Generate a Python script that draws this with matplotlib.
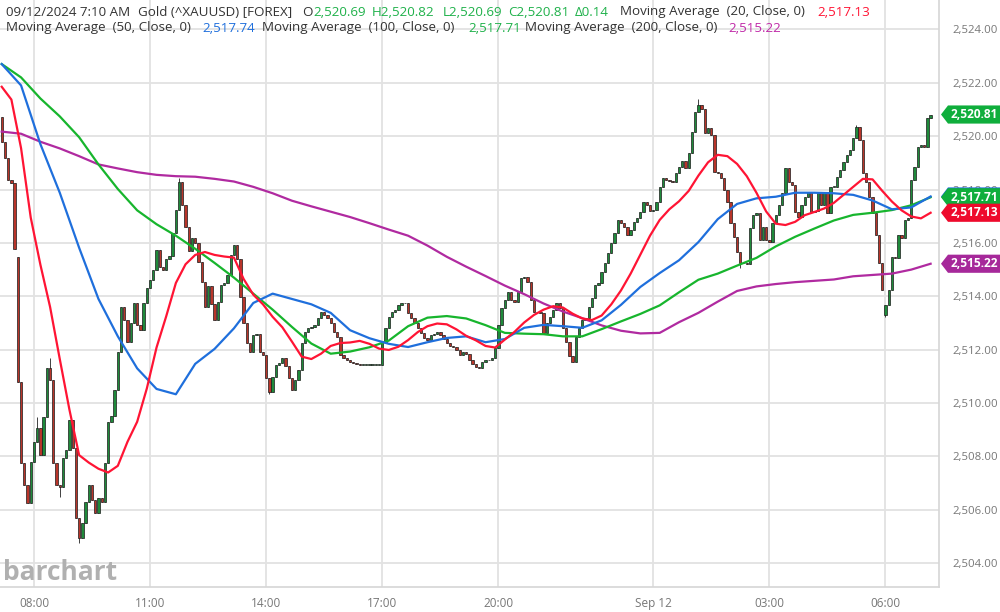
import numpy as np
import matplotlib.pyplot as plt
from matplotlib.patches import Polygon

plt.rcParams['font.family'] = ['Open Sans', 'DejaVu Sans']

# 5-minute bars, 07:10 Sep 11 -> 07:10 Sep 12 (bar index = position on x axis)
closes = [
    2519.79, 2519.17, 2518.36, 2518.25, 2515.76, 2510.80, 2507.74, 2506.93, 2506.25, 2507.80,
    2508.55, 2509.06, 2508.05, 2509.49, 2511.30, 2510.87, 2507.75, 2506.93, 2506.85, 2507.93,
    2508.24, 2509.37, 2508.30, 2505.70, 2504.95, 2505.50, 2506.30, 2506.93, 2506.38, 2505.88,
    2506.44, 2506.30, 2507.76, 2509.30, 2509.50, 2510.49, 2511.93, 2513.61, 2513.11, 2512.30,
    2512.99, 2513.74, 2512.92, 2512.74, 2513.74, 2514.30, 2514.61, 2514.98, 2515.73, 2515.10,
    2515.00, 2515.40, 2515.50, 2516.36, 2517.23, 2518.29, 2517.42, 2516.60, 2515.70, 2516.17,
    2516.00, 2515.30, 2514.55, 2513.61, 2514.40, 2513.70, 2513.11, 2513.80, 2514.42, 2514.50,
    2514.78, 2515.54, 2515.92, 2515.40, 2513.98, 2512.99, 2512.24, 2511.93, 2512.55, 2512.60,
    2511.93, 2511.80, 2510.93, 2510.43, 2510.99, 2511.43, 2511.50, 2511.68, 2511.40, 2510.93,
    2510.49, 2510.87, 2511.24, 2512.24, 2512.67, 2512.80, 2512.85, 2512.93, 2513.18, 2513.42,
    2513.30, 2513.18, 2512.99, 2512.67, 2512.48, 2511.80, 2511.68, 2511.60, 2511.55, 2511.50,
    2511.45, 2511.43, 2511.43, 2511.43, 2511.43, 2511.43, 2511.43, 2511.43, 2512.30, 2512.80,
    2513.24, 2513.42, 2513.50, 2513.67, 2513.74, 2513.76, 2513.36, 2513.18, 2512.99, 2512.80,
    2512.61, 2512.42, 2512.36, 2512.55, 2512.60, 2512.67, 2512.55, 2512.40, 2512.24, 2512.15,
    2512.10, 2511.99, 2511.80, 2511.90, 2511.85, 2511.61, 2511.45, 2511.35, 2511.30, 2511.55,
    2511.60, 2511.62, 2511.68, 2512.05, 2512.93, 2513.55, 2513.86, 2514.17, 2513.86, 2513.80,
    2514.17, 2514.67, 2514.73, 2514.55, 2513.86, 2513.42, 2513.40, 2513.36, 2512.61, 2512.99,
    2513.24, 2513.49, 2513.74, 2513.55, 2512.80, 2512.30, 2511.75, 2511.55, 2512.49, 2512.80,
    2513.11, 2513.18, 2513.61, 2513.93, 2514.42, 2514.50, 2514.92, 2515.24, 2515.61, 2515.98,
    2516.36, 2516.86, 2516.73, 2516.61, 2516.30, 2516.48, 2516.79, 2516.92, 2517.17, 2517.54,
    2517.42, 2517.20, 2517.25, 2517.54, 2518.10, 2518.42, 2518.36, 2518.32, 2518.29, 2518.61,
    2518.85, 2519.08, 2518.79, 2519.36, 2520.16, 2520.91, 2521.16, 2521.00, 2520.10, 2520.30,
    2520.04, 2518.67, 2518.61, 2518.42, 2517.98, 2517.54, 2516.73, 2516.23, 2515.67, 2515.24,
    2515.24, 2515.20, 2516.55, 2517.05, 2517.11, 2516.11, 2516.61, 2516.11, 2516.05, 2516.73,
    2517.05, 2517.42, 2517.86, 2518.79, 2518.30, 2518.17, 2517.17, 2516.98, 2517.42, 2517.73,
    2517.92, 2517.17, 2517.20, 2517.86, 2517.42, 2517.86, 2517.11, 2518.10, 2518.10, 2518.48,
    2518.73, 2519.04, 2519.29, 2519.48, 2519.92, 2520.35, 2519.85, 2518.61, 2518.29, 2517.73,
    2517.11, 2516.30, 2515.24, 2514.24, 2513.67, 2514.24, 2515.48, 2515.42, 2516.30, 2516.17,
    2516.86, 2516.92, 2518.36, 2518.85, 2519.60, 2519.67, 2519.60, 2520.67, 2520.81,
]
first_open = 2520.73
open_gaps = {5: 2515.48, 274: 2513.30}
wick_high = {11: 2509.49, 15: 2511.69, 55: 2518.42, 216: 2521.38, 265: 2520.42}
wick_low = {18: 2506.50, 24: 2504.76, 83: 2510.35, 229: 2515.05, 274: 2513.24}

# MA(20) read every 3 bars, the slower averages every 6 bars
ma20_step = 3
ma20 = [2521.85, 2521.37, 2519.55, 2516.95, 2515.18, 2513.60, 2511.65, 2509.75, 2508.05, 2507.77,
        2507.54, 2507.40, 2507.65, 2508.55, 2509.30, 2510.55, 2512.08, 2513.25, 2514.50, 2515.20,
        2515.55, 2515.66, 2515.55, 2515.49, 2515.45, 2514.65, 2514.06, 2513.70, 2513.23, 2512.84,
        2512.30, 2511.74, 2511.65, 2511.85, 2512.14, 2512.25, 2512.27, 2512.33, 2512.22, 2512.04,
        2511.99, 2512.11, 2512.36, 2512.66, 2512.88, 2512.98, 2512.95, 2512.76, 2512.52, 2512.35,
        2512.14, 2512.08, 2512.38, 2512.67, 2513.02, 2513.30, 2513.50, 2513.63, 2513.58, 2513.35,
        2513.17, 2513.11, 2513.28, 2513.70, 2514.22, 2514.85, 2515.56, 2516.27, 2516.86, 2517.26,
        2517.56, 2517.95, 2518.52, 2519.02, 2519.30, 2519.25, 2518.96, 2518.50, 2517.88, 2517.18,
        2516.72, 2516.67, 2516.79, 2517.04, 2517.16, 2517.29, 2517.50, 2517.80, 2518.10, 2518.40,
        2518.38, 2517.95, 2517.55, 2517.22, 2516.99, 2516.92, 2517.13]
ma_step = 6
ma50 = [2522.70, 2521.90, 2519.70, 2517.88, 2515.82, 2513.90, 2512.50, 2511.30, 2510.53, 2510.33,
        2511.47, 2512.03, 2512.80, 2513.75, 2514.10, 2513.90, 2513.70, 2513.38, 2512.73, 2512.43,
        2512.22, 2512.10, 2512.28, 2512.44, 2512.50, 2512.28, 2512.40, 2512.82, 2512.93, 2512.88,
        2512.82, 2513.10, 2513.68, 2514.35, 2514.87, 2515.35, 2516.03, 2516.89, 2517.46, 2517.67,
        2517.73, 2517.88, 2517.88, 2517.86, 2517.80, 2517.59, 2517.26, 2517.33, 2517.74]
ma100 = [2522.70, 2522.20, 2521.41, 2520.74, 2519.96, 2518.94, 2518.02, 2517.22, 2516.70, 2516.27,
         2515.78, 2515.25, 2514.70, 2514.10, 2513.50, 2512.85, 2512.23, 2511.85, 2511.93, 2512.09,
         2512.34, 2512.88, 2513.20, 2513.26, 2513.17, 2512.92, 2512.63, 2512.60, 2512.58, 2512.50,
         2512.50, 2512.77, 2513.06, 2513.34, 2513.66, 2514.15, 2514.62, 2514.85, 2515.15, 2515.44,
         2515.87, 2516.23, 2516.54, 2516.84, 2517.05, 2517.13, 2517.23, 2517.41, 2517.71]
ma200 = [2520.17, 2520.09, 2519.79, 2519.54, 2519.25, 2518.94, 2518.79, 2518.65, 2518.55, 2518.50,
         2518.48, 2518.40, 2518.30, 2518.10, 2517.86, 2517.58, 2517.37, 2517.17, 2516.97, 2516.74,
         2516.50, 2516.27, 2515.90, 2515.48, 2515.11, 2514.76, 2514.40, 2514.08, 2513.73, 2513.43,
         2513.18, 2512.91, 2512.71, 2512.61, 2512.63, 2513.03, 2513.38, 2513.80, 2514.20, 2514.37,
         2514.46, 2514.53, 2514.58, 2514.63, 2514.75, 2514.80, 2514.85, 2515.00, 2515.22]

tick_bars = [10, 46, 82, 118, 154, 202, 238, 274]
tick_labels = ['08:00', '11:00', '14:00', '17:00', '20:00', 'Sep 12', '03:00', '06:00']

last_ma20, last_ma50, last_ma100, last_ma200 = 2517.13, 2517.74, 2517.71, 2515.22
last_close = 2520.81

C_UP = '#1f8a3b'
C_DN = '#b8352a'
C_MA20 = '#ff1434'
C_MA50 = '#1f6fdc'
C_MA100 = '#17b52d'
C_MA200 = '#b02aa0'
TXT = '#333333'

# build OHLC
closes = np.array(closes)
opens = np.concatenate([[first_open], closes[:-1]])
for k, v in open_gaps.items():
    opens[k] = v
highs = np.maximum(opens, closes)
lows = np.minimum(opens, closes)
for k, v in wick_high.items():
    highs[k] = v
for k, v in wick_low.items():
    lows[k] = v
bars = np.arange(len(closes))

fig = plt.figure(figsize=(10, 6.12), dpi=100)
ax = fig.add_axes([0, 25 / 612, 939 / 1000, 587 / 612])

ax.set_xlim(-0.53, 290.6)
ax.set_ylim(2503.11, 2525.1)

# grid and axes
yt = np.arange(2504, 2525, 2)
ax.set_yticks(yt)
ax.set_yticklabels([f'{v:,.2f}' for v in yt])
ax.set_xticks(tick_bars)
ax.set_xticklabels(tick_labels)
ax.grid(True, color='#e2e2e2', lw=1.3, zorder=0)
ax.set_axisbelow(True)
ax.yaxis.tick_right()
ax.tick_params(axis='y', length=0, pad=10, labelsize=8.2, labelcolor='#777777')
ax.tick_params(axis='x', length=0, pad=7, labelsize=8.5, labelcolor='#777777')
for s in ['left', 'top']:
    ax.spines[s].set_visible(False)
for s in ['right', 'bottom']:
    ax.spines[s].set_color('#d6d6d6')
    ax.spines[s].set_linewidth(1.2)

# candles
up = closes >= opens
ax.vlines(bars, lows, highs, color='#222222', lw=0.6, zorder=2)
body_h = np.maximum(np.abs(closes - opens), 0.02)
ax.bar(bars, body_h, bottom=np.minimum(opens, closes), width=0.72,
       color=np.where(up, C_UP, C_DN), edgecolor='#1a1a1a', linewidth=0.5, zorder=2)

# moving averages
ma_x = np.arange(len(ma50)) * ma_step
ax.plot(ma_x, ma200, color=C_MA200, lw=1.6, zorder=3)
ax.plot(ma_x, ma100, color=C_MA100, lw=1.6, zorder=3)
ax.plot(ma_x, ma50, color=C_MA50, lw=1.6, zorder=3)
ax.plot(np.arange(len(ma20)) * ma20_step, ma20, color=C_MA20, lw=1.6, zorder=3)

# price tags at the right
ytf = ax.get_yaxis_transform()
px = 1 / 939.0
half = 0.34
z = [6]
def tag(v, col, label=True):
    pts = [(941 * px, v), (948 * px, v + half), (1000 * px, v + half),
           (1000 * px, v - half), (948 * px, v - half)]
    ax.add_patch(Polygon(pts, closed=True, transform=ytf, facecolor=col,
                         edgecolor='none', clip_on=False, zorder=z[0]))
    if label:
        ax.text(974 * px, v, f'{v:,.2f}', transform=ytf, ha='center', va='center',
                color='white', fontsize=8.6, fontweight='bold', zorder=z[0] + 0.5,
                clip_on=False)
    z[0] += 1

tag(last_ma50, C_MA50, label=False)   # hidden behind the MA(100) tag
tag(last_ma100, '#0fae3c')
tag(last_ma20, '#ee0a2c')
tag(last_ma200, '#a6289a')
tag(last_close, '#0fae3c')

# header lines: each piece placed where it starts in the original
def pieces(y, parts, size=9.6):
    for x, s, c in parts:
        fig.text(x / 1000, 1 - y / 612, s, color=c, fontsize=size, va='center', ha='left')

G = '#1fb14a'
pieces(12, [(6, '09/12/2024 7:10 AM', TXT), (138, 'Gold (^XAUUSD) [FOREX]', TXT),
            (302, 'O', TXT), (313, '2,520.69', G), (372, 'H2,520.82', G),
            (443, 'L2,520.69', G), (508, 'C2,520.81', G), (575, 'Δ0.14', G),
            (620, 'Moving Average  (20, Close, 0)', TXT),
            (817, f'{last_ma20:,.2f}', C_MA20)])
pieces(28, [(6, 'Moving Average  (50, Close, 0)', TXT),
            (202, f'{last_ma50:,.2f}', C_MA50),
            (262, 'Moving Average  (100, Close, 0)', TXT),
            (468, f'{last_ma100:,.2f}', G),
            (525, 'Moving Average  (200, Close, 0)', TXT),
            (728, f'{last_ma200:,.2f}', '#c02aa8')])

# watermark
fig.text(3 / 1000, 1 - 572 / 612, 'barchart', color='#b0b0b0', fontsize=19,
         fontweight='bold', va='center', ha='left')

fig.savefig('out.png', dpi=100)
